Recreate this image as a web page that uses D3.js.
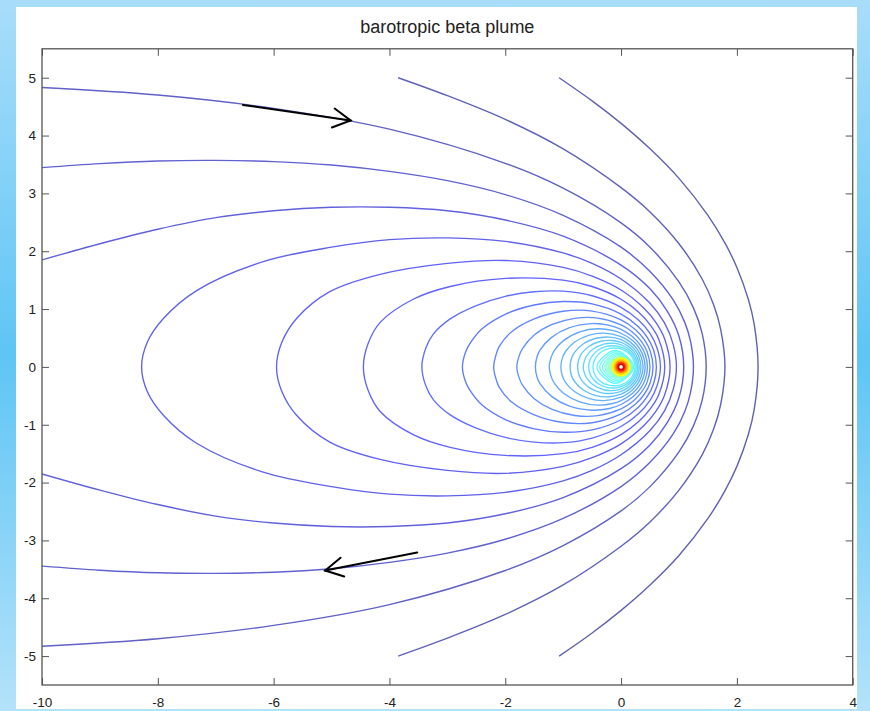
<!DOCTYPE html>
<html>
<head>
<meta charset="utf-8">
<script src="https://cdn.jsdelivr.net/npm/d3@7"></script>
<style>
  html, body { margin: 0; padding: 0; background: #fff; }
  body { width: 870px; height: 711px; overflow: hidden; }
  text { font-family: "Liberation Sans", Arial, Helvetica, sans-serif; }
</style>
</head>
<body>
<svg id="chart" width="870" height="711"></svg>
<script>
// ---- axis ticks ----
const xTicks = [-10, -8, -6, -4, -2, 0, 2, 4];
const yTicks = [-5, -4, -3, -2, -1, 0, 1, 2, 3, 4, 5];

// ---- streamfunction contours, upper half (y >= 0); the plume is symmetric about y = 0 ----
// open contours leaving the box (levels 0.1 .. 0.5)
const openLevels = [0.1, 0.2, 0.3, 0.4, 0.5];
const open1 = [[-1.07,5.0],[-0.5,4.60],[0,4.21],[0.5,3.77],[1.0,3.26],[1.5,2.62],[1.8,2.13],[2.0,1.72],[2.2,1.16],[2.3,0.73],[2.366,0]];
const open2 = [[-3.85,5.0],[-3.0,4.69],[-2.0,4.28],[-1.0,3.77],[0,3.10],[0.5,2.68],[1.0,2.13],[1.4,1.52],[1.6,1.07],[1.72,0.65],[1.794,0]];
const open3 = [[-10,4.83],[-8,4.70],[-6,4.47],[-4,4.11],[-2,3.52],[-1,3.09],[0,2.49],[0.5,2.07],[1.0,1.47],[1.25,1.02],[1.4,0.58],[1.47,0]];
const open4 = [[-10,3.445],[-9,3.515],[-8,3.56],[-7,3.57],[-6,3.55],[-5,3.49],[-4,3.38],[-3,3.22],[-2,2.98],[-1,2.62],[0,2.07],[0.5,1.65],[0.9,1.16],[1.1,0.77],[1.2,0.44],[1.25,0]];
const open5 = [[-10,1.85],[-9,2.13],[-8,2.38],[-7,2.58],[-6,2.70],[-5,2.76],[-4,2.76],[-3,2.70],[-2,2.54],[-1,2.26],[0,1.76],[0.5,1.35],[0.8,0.96],[1.0,0.53],[1.082,0]];

// closed contours around the source (levels 0.6 .. 2.0), west vertex to east vertex
const loopLevels = [0.6, 0.7, 0.8, 0.9, 1.0, 1.1, 1.2, 1.3, 1.4, 1.5, 1.6, 1.7, 1.8, 1.9, 2.0];
const loop06 = [[-8.28,0],[-8.18,0.43],[-7.9,0.84],[-7.33,1.32],[-6.18,1.82],[-5,2.07],[-4,2.2],[-3,2.23],[-2,2.17],[-1,1.97],[-0.5,1.79],[0,1.52],[0.5,1.10],[0.75,0.76],[0.9,0.39],[0.956,0]];
const loop07 = [[-5.95,0],[-5.86,0.42],[-5.6,0.84],[-5.03,1.30],[-4.16,1.60],[-3,1.79],[-2,1.84],[-1,1.72],[-0.5,1.57],[0,1.33],[0.4,1.01],[0.6,0.77],[0.75,0.49],[0.846,0]];
const loop08 = [[-4.45,0],[-4.37,0.40],[-4.16,0.77],[-3.59,1.17],[-2.95,1.39],[-2,1.53],[-1,1.50],[-0.5,1.39],[0,1.17],[0.3,0.95],[0.5,0.73],[0.65,0.48],[0.754,0]];
const loop09 = [[-3.44,0],[-3.37,0.33],[-3.24,0.57],[-2.95,0.83],[-2.5,1.06],[-2,1.22],[-1.5,1.30],[-1,1.31],[-0.5,1.23],[0,1.03],[0.3,0.81],[0.5,0.58],[0.62,0.33],[0.68,0]];
const loop10 = [[-2.74,0],[-2.68,0.27],[-2.6,0.42],[-2.4,0.66],[-2,0.91],[-1.5,1.07],[-1,1.13],[-0.5,1.09],[0,0.914],[0.3,0.696],[0.45,0.516],[0.56,0.296],[0.61,0]];
const loop11 = [[-2.2,0],[-2.15,0.24],[-2.1,0.36],[-1.9,0.6],[-1.5,0.83],[-1,0.962],[-0.5,0.965],[0,0.814],[0.25,0.643],[0.4,0.473],[0.5,0.283],[0.552,0]];
const loop12 = [[-1.8,0],[-1.76,0.19],[-1.7,0.32],[-1.5,0.55],[-1.2,0.73],[-0.8,0.84],[-0.4,0.843],[0,0.726],[0.2,0.599],[0.35,0.442],[0.45,0.263],[0.50,0]];
const loop13 = [[-1.48,0],[-1.45,0.18],[-1.4,0.29],[-1.2,0.51],[-0.9,0.675],[-0.5,0.749],[-0.2,0.719],[0,0.65],[0.2,0.522],[0.35,0.352],[0.42,0.207],[0.456,0]];
const loop14 = [[-1.24,0],[-1.21,0.16],[-1.15,0.284],[-1.0,0.45],[-0.7,0.61],[-0.4,0.66],[-0.15,0.633],[0,0.582],[0.2,0.455],[0.32,0.315],[0.39,0.162],[0.416,0]];
const loop15 = [[-1.04,0],[-1.01,0.165],[-0.95,0.279],[-0.8,0.43],[-0.55,0.55],[-0.3,0.584],[0,0.523],[0.15,0.437],[0.28,0.302],[0.35,0.163],[0.38,0]];
const loop16 = [[-0.88,0],[-0.855,0.154],[-0.8,0.257],[-0.65,0.40],[-0.45,0.491],[-0.2,0.516],[0,0.47],[0.15,0.384],[0.25,0.281],[0.31,0.173],[0.344,0]];
const loop17 = [[-0.75,0],[-0.725,0.145],[-0.68,0.234],[-0.55,0.358],[-0.35,0.444],[-0.15,0.457],[0,0.423],[0.12,0.359],[0.22,0.265],[0.28,0.163],[0.314,0]];
const loop18 = [[-0.654,0],[-0.63,0.113],[-0.6,0.18],[-0.5,0.296],[-0.3,0.395],[-0.1,0.406],[0,0.381],[0.1,0.331],[0.2,0.241],[0.26,0.138],[0.287,0]];
const loop19 = [[-0.56,0],[-0.54,0.111],[-0.5,0.188],[-0.4,0.288],[-0.25,0.354],[-0.08,0.362],[0,0.343],[0.1,0.294],[0.18,0.222],[0.235,0.131],[0.262,0]];
const loop20 = [[-0.486,0],[-0.47,0.09],[-0.44,0.158],[-0.35,0.254],[-0.2,0.32],[-0.05,0.322],[0,0.31],[0.1,0.26],[0.17,0.195],[0.215,0.118],[0.24,0]];

// small contours hugging the source: [west x, east x, half height, x of half height]
const innerLevels = [2.1, 2.2, 2.3, 2.4, 2.5, 2.6, 2.7, 2.8, 2.9, 3.0];
const innerRings = [[-0.42,0.219,0.285,-0.1],[-0.369,0.198,0.263,-0.08],[-0.32,0.181,0.236,-0.07],[-0.281,0.165,0.213,-0.06],
                    [-0.248,0.151,0.19,-0.05],[-0.219,0.138,0.17,-0.045],[-0.194,0.126,0.155,-0.04],[-0.172,0.115,0.14,-0.035],
                    [-0.153,0.105,0.127,-0.03],[-0.136,0.096,0.115,-0.025]];
// tightly packed contours at the singular point: level and radius
const coreLevels = [3.2, 3.5, 3.8, 4.1, 4.4, 4.7, 5.0, 5.3];
const coreRadii  = [0.175, 0.16, 0.135, 0.115, 0.095, 0.08, 0.065, 0.05];
const levelRange = [0.1, 5.6];

// ---- flow direction arrows [from, to] ----
const arrowTop = [[-6.53,4.53],[-4.67,4.26]];
const arrowBottom = [[-3.52,-3.21],[-5.11,-3.52]];

const titleText = "barotropic beta plume";

// ---------------------------------------------------------------
const W = 870, H = 711;
const svg = d3.select("#chart");

// framed light-blue backdrop
const defs = svg.append("defs");
const grad = defs.append("linearGradient").attr("id","bg").attr("x1",0).attr("y1",0).attr("x2",0).attr("y2",1);
grad.append("stop").attr("offset","0%").attr("stop-color","#a9ddfa");
grad.append("stop").attr("offset","50%").attr("stop-color","#5ec5f5");
grad.append("stop").attr("offset","100%").attr("stop-color","#b4e2fa");
svg.append("rect").attr("width",W).attr("height",H).attr("fill","url(#bg)");
svg.append("rect").attr("x",16).attr("y",7).attr("width",841).attr("height",702).attr("fill","#ffffff");

const x = d3.scaleLinear().domain([-10, 4]).range([42, 852.7]);
const y = d3.scaleLinear().domain([-5.5, 5.5]).range([685, 48.8]);

const clip = defs.append("clipPath").attr("id","plotclip");
clip.append("rect").attr("x",x(-10)).attr("y",y(5.5)).attr("width",x(4)-x(-10)).attr("height",y(-5.5)-y(5.5));
const plot = svg.append("g").attr("clip-path","url(#plotclip)");

// MATLAB jet colormap over the contour levels
function jet(t) {
  const c = v => Math.max(0, Math.min(1, v));
  return d3.rgb(255*c(1.5 - Math.abs(4*t - 3)), 255*c(1.5 - Math.abs(4*t - 2)), 255*c(1.5 - Math.abs(4*t - 1)));
}
const levelT = d3.scaleLinear().domain(levelRange).range([0, 1]).clamp(true);
// thin contour strokes read lighter on white paper
const lineColor = L => d3.interpolateRgb(jet(levelT(L)), "#ffffff")(0.38);

const openLine = d3.line().x(d => x(d[0])).y(d => y(d[1])).curve(d3.curveCatmullRom.alpha(0.5));
const closedLine = d3.line().x(d => x(d[0])).y(d => y(d[1])).curve(d3.curveCatmullRomClosed.alpha(0.5));

function mirrorOpen(half) {
  const lower = half.slice(0, -1).map(p => [p[0], -p[1]]).reverse();
  return half.concat(lower);
}
function mirrorClosed(half) {
  const lower = half.slice(1, -1).map(p => [p[0], -p[1]]).reverse();
  return half.concat(lower);
}

[open1, open2, open3, open4, open5].forEach((half, i) => {
  plot.append("path").attr("d", openLine(mirrorOpen(half)))
    .attr("fill","none").attr("stroke", lineColor(openLevels[i])).attr("stroke-width",1.4);
});
[loop06, loop07, loop08, loop09, loop10, loop11, loop12, loop13, loop14, loop15, loop16, loop17, loop18, loop19, loop20]
  .forEach((half, i) => {
    plot.append("path").attr("d", closedLine(mirrorClosed(half)))
      .attr("fill","none").attr("stroke", lineColor(loopLevels[i])).attr("stroke-width",1.35);
  });
innerRings.forEach((r, i) => {
  const pts = [[r[0],0],[r[3],r[2]],[r[1],0],[r[3],-r[2]]];
  plot.append("path").attr("d", closedLine(pts))
    .attr("fill","none").attr("stroke", lineColor(innerLevels[i])).attr("stroke-width",1.3);
});
coreLevels.forEach((L, i) => {
  plot.append("circle").attr("cx", x(0)).attr("cy", y(0))
    .attr("r", x(coreRadii[i]) - x(0))
    .attr("fill", d3.interpolateRgb(jet(levelT(L)), "#ffffff")(0.06));
});
plot.append("circle").attr("cx", x(0)).attr("cy", y(0)).attr("r", 1.8).attr("fill","#ffffff");

// arrows marking the flow direction
function arrow(a) {
  const x0 = x(a[0][0]), y0 = y(a[0][1]), x1 = x(a[1][0]), y1 = y(a[1][1]);
  const ang = Math.atan2(y1 - y0, x1 - x0), L = 20, spread = 0.5;
  const g = svg.append("g").attr("stroke","#000").attr("stroke-width",2).attr("fill","none").attr("stroke-linecap","round");
  g.append("line").attr("x1",x0).attr("y1",y0).attr("x2",x1).attr("y2",y1);
  g.append("polyline").attr("points", [
    [x1 - L*Math.cos(ang - spread), y1 - L*Math.sin(ang - spread)],
    [x1, y1],
    [x1 - L*Math.cos(ang + spread), y1 - L*Math.sin(ang + spread)]
  ].map(p => p.join(",")).join(" "));
}
arrow(arrowTop);
arrow(arrowBottom);

// axes with inward ticks on all four sides; labels use a plain hyphen-minus
const axisColor = "#555";
const tickLabel = d => String(d);
function styleAxis(g) {
  g.select(".domain").remove();
  g.selectAll(".tick line").attr("stroke", axisColor).attr("stroke-width",1);
  g.selectAll(".tick text").attr("fill","#222").style("font-size","13.5px");
}
svg.append("g").attr("transform",`translate(0,${y(-5.5)})`)
  .call(d3.axisBottom(x).tickValues(xTicks).tickSize(-7).tickPadding(12).tickFormat(tickLabel))
  .call(styleAxis);
svg.append("g").attr("transform",`translate(0,${y(5.5)})`)
  .call(d3.axisTop(x).tickValues(xTicks).tickSize(-7).tickFormat(""))
  .call(styleAxis);
svg.append("g").attr("transform",`translate(${x(-10)},0)`)
  .call(d3.axisLeft(y).tickValues(yTicks).tickSize(-7).tickPadding(6).tickFormat(tickLabel))
  .call(styleAxis);
svg.append("g").attr("transform",`translate(${x(4)},0)`)
  .call(d3.axisRight(y).tickValues(yTicks).tickSize(-7).tickFormat(""))
  .call(styleAxis);

svg.append("rect").attr("x",x(-10)).attr("y",y(5.5)).attr("width",x(4)-x(-10)).attr("height",y(-5.5)-y(5.5))
  .attr("fill","none").attr("stroke",axisColor).attr("stroke-width",1.3);

svg.append("text").attr("x",(x(-10)+x(4))/2).attr("y",33).attr("text-anchor","middle")
  .attr("fill","#222").style("font-size","18px").text(titleText);
</script>
</body>
</html>
